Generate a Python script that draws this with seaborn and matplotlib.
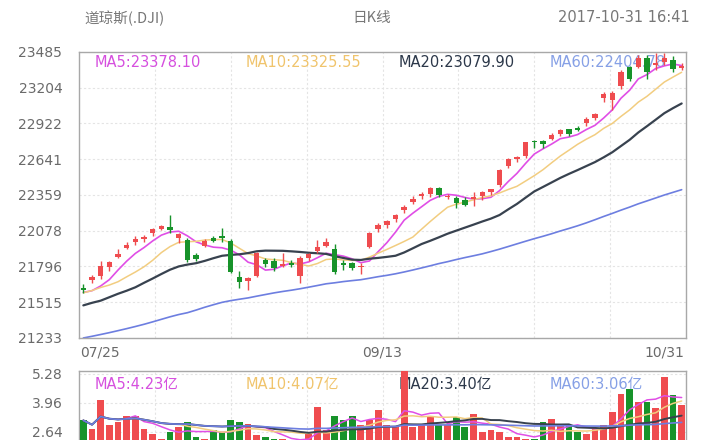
import numpy as np
import pandas as pd
import matplotlib
matplotlib.use("Agg")
import matplotlib.pyplot as plt
import seaborn as sns

# ---------------- data ----------------
dates = ["07/25", "07/26", "07/27", "07/28", "07/31", "08/01", "08/02", "08/03", "08/04", "08/07",
         "08/08", "08/09", "08/10", "08/11", "08/14", "08/15", "08/16", "08/17", "08/18", "08/21",
         "08/22", "08/23", "08/24", "08/25", "08/28", "08/29", "08/30", "08/31", "09/01", "09/05",
         "09/06", "09/07", "09/08", "09/11", "09/12", "09/13", "09/14", "09/15", "09/18", "09/19",
         "09/20", "09/21", "09/22", "09/25", "09/26", "09/27", "09/28", "09/29", "10/02", "10/03",
         "10/04", "10/05", "10/06", "10/09", "10/10", "10/11", "10/12", "10/13", "10/16", "10/17",
         "10/18", "10/19", "10/20", "10/23", "10/24", "10/25", "10/26", "10/27", "10/30", "10/31"]

opens = [21625, 21690, 21725, 21790, 21870, 21940, 21990, 22010, 22060, 22095,
         22110, 22020, 22005, 21885, 21960, 22020, 22040, 21995, 21710, 21680,
         21720, 21850, 21840, 21800, 21825, 21720, 21860, 21920, 21960, 21930,
         21820, 21825, 21790, 21950, 22090, 22120, 22170, 22240, 22300, 22350,
         22370, 22415, 22340, 22335, 22320, 22330, 22350, 22380, 22435, 22590,
         22640, 22665, 22785, 22785, 22800, 22840, 22875, 22885, 22925, 22965,
         23120, 23105, 23220, 23365, 23370, 23440, 23380, 23410, 23420, 23360]
highs = [21655, 21730, 21843, 21840, 21930, 21990, 22036, 22041, 22100, 22124,
         22200, 22060, 22020, 21900, 22010, 22040, 22100, 22010, 21760, 21715,
         21910, 21860, 21860, 21905, 21850, 21880, 21900, 22005, 22020, 21970,
         21850, 21830, 21820, 22070, 22135, 22165, 22210, 22280, 22350, 22380,
         22425, 22425, 22370, 22350, 22340, 22380, 22390, 22410, 22565, 22650,
         22670, 22780, 22790, 22790, 22850, 22880, 22880, 22900, 22975, 23005,
         23170, 23175, 23345, 23375, 23460, 23460, 23480, 23480, 23450, 23395]
lows = [21590, 21670, 21700, 21760, 21860, 21930, 21963, 21990, 22040, 22080,
        22060, 21980, 21835, 21840, 21950, 21990, 21990, 21745, 21630, 21610,
        21710, 21790, 21760, 21790, 21790, 21670, 21840, 21900, 21950, 21740,
        21770, 21765, 21740, 21940, 22070, 22100, 22150, 22220, 22290, 22330,
        22340, 22340, 22330, 22255, 22270, 22270, 22320, 22360, 22420, 22570,
        22620, 22650, 22730, 22730, 22790, 22820, 22820, 22860, 22900, 22950,
        23090, 23030, 23190, 23260, 23360, 23270, 23340, 23380, 23330, 23340]
closes = [21613, 21711, 21796, 21830, 21891, 21963, 22016, 22026, 22092, 22118,
          22085, 22048, 21844, 21858, 21993, 21998, 22024, 21750, 21674, 21703,
          21899, 21812, 21783, 21813, 21808, 21865, 21892, 21948, 21988, 21753,
          21807, 21784, 21797, 22057, 22119, 22158, 22203, 22268, 22331, 22370,
          22412, 22359, 22349, 22296, 22284, 22340, 22381, 22405, 22557, 22641,
          22661, 22775, 22773, 22761, 22830, 22872, 22841, 22871, 22957, 22997,
          23158, 23163, 23329, 23274, 23441, 23329, 23401, 23434, 23349, 23377]
# closes before the visible window (needed by the moving averages)
prior_closes = [20913, 20949, 20957, 20951, 21007, 21013, 20975, 20943, 20919, 20897,
                20982, 20980, 20607, 20663, 20805, 20895, 20937, 21012, 21083, 21080,
                21029, 21009, 21144, 21206, 21184, 21136, 21173, 21182, 21272, 21236,
                21328, 21375, 21360, 21384, 21528, 21467, 21410, 21397, 21395, 21409,
                21310, 21454, 21288, 21350, 21479, 21478, 21320, 21414, 21409, 21409,
                21532, 21554, 21638, 21630, 21575, 21641, 21611, 21580, 21513]

volumes = [3.16, 2.77, 4.07, 2.94, 3.07, 3.37, 3.37, 2.77, 2.55, 2.30,
           2.64, 2.85, 3.07, 2.40, 2.30, 2.70, 2.64, 3.16, 3.07, 3.00,
           2.50, 2.40, 2.30, 2.30, 2.20, 2.20, 2.55, 3.75, 2.70, 3.37,
           3.16, 3.37, 2.94, 3.16, 3.63, 2.94, 2.85, 5.40, 2.85, 2.94,
           3.37, 2.94, 2.94, 3.29, 2.85, 3.45, 2.64, 2.70, 2.64, 2.40,
           2.40, 2.30, 2.30, 3.07, 3.20, 2.94, 2.94, 2.64, 2.55, 2.77,
           2.94, 3.52, 4.37, 4.59, 3.98, 3.98, 3.70, 5.15, 4.30, 3.85]

price_ticks = [21233, 21515, 21796, 22078, 22359, 22641, 22922, 23204, 23485]
vol_ticks = [2.64, 3.96, 5.28]
x_labels = ["07/25", "09/13", "10/31"]
title_left = "道琼斯(.DJI)"
title_mid = "日K线"
title_right = "2017-10-31 16:41"
ma_periods = [5, 10, 20, 60]
price_ma_labels = ["MA5:23378.10", "MA10:23325.55", "MA20:23079.90", "MA60:22404.78"]
vol_ma_labels = ["MA5:4.23亿", "MA10:4.07亿", "MA20:3.40亿", "MA60:3.06亿"]

# ---------------- styling ----------------
sns.set_theme(style="white")
plt.rcParams["font.family"] = ["DejaVu Sans", "Noto Sans CJK SC"]
cjk = ["Noto Sans CJK SC", "DejaVu Sans"]

RED = "#ef4c4f"
GREEN = "#17932a"
ma_line_colors = ["#e04ee6", "#f2cd80", "#38424f", "#6d7ee0"]
ma_text_colors = ["#d650df", "#f0c46c", "#2c384a", "#86a0e6"]
TXT = "#6a6a6a"

n = len(closes)
idx = np.arange(n)
df = pd.DataFrame({"idx": idx, "date": dates, "open": opens, "high": highs,
                   "low": lows, "close": closes, "vol": volumes})
df["dir"] = np.where(df["close"] >= df["open"], "up", "down")
pal = {"up": RED, "down": GREEN}
col = df["dir"].map(pal).tolist()

full = pd.Series(prior_closes + closes, dtype=float)
for p in ma_periods:
    df[f"ma{p}"] = full.rolling(p).mean().iloc[-n:].to_numpy()
    df[f"vma{p}"] = df["vol"].rolling(p, min_periods=1).mean()

W, H = 720, 440
fig = plt.figure(figsize=(7.2, 4.4), dpi=100)
fig.patch.set_facecolor("white")
L, R = 79, 686
ax = fig.add_axes([L / W, 1 - 338 / H, (R - L) / W, (338 - 52) / H])
axv = fig.add_axes([L / W, 1 - 490 / H, (R - L) / W, (490 - 371) / H])

grid_x = [-0.5 + k * n / 8 for k in range(1, 8)]

# ---------------- price panel ----------------
for a in (ax, axv):
    a.set_facecolor("white")
    for s in a.spines.values():
        s.set_color("#a8a8a8")
        s.set_linewidth(1.0)

ax.set_xlim(-0.5, n - 0.5)
ax.set_ylim(price_ticks[0], price_ticks[-1])
ax.set_yticks(price_ticks)
ax.set_yticklabels([str(t) for t in price_ticks])
ax.set_xticks(grid_x)
ax.set_xticklabels([])
ax.tick_params(axis="both", length=0)
ax.tick_params(axis="y", labelsize=10, labelcolor=TXT, pad=12)
ax.grid(True, color="#e4e4e4", linestyle=(0, (2, 2)), linewidth=0.8)
ax.set_axisbelow(True)

for lab, x, c in zip(price_ma_labels, [0.026, 0.274, 0.526, 0.775], ma_text_colors):
    ax.text(x, 0.962, lab, transform=ax.transAxes, color=c, fontsize=10.5,
            va="center", ha="left", zorder=1)

for p, c, lw in zip(ma_periods, ma_line_colors, [1.2, 1.1, 1.6, 1.2]):
    sns.lineplot(data=df, x="idx", y=f"ma{p}", color=c, linewidth=lw, ax=ax,
                 zorder=2)

body_bottom = np.minimum(df["open"], df["close"])
body_h = np.maximum(np.abs(df["close"] - df["open"]), 9)
ax.vlines(df["idx"], df["low"], df["high"], colors=col, linewidth=1.0, zorder=3)
ax.bar(df["idx"], body_h, bottom=body_bottom, width=0.62, color=col,
       linewidth=0, zorder=4)
ax.set_xlabel("")
ax.set_ylabel("")

# ---------------- volume panel ----------------
sns.barplot(data=df, x="idx", y="vol", hue="dir", palette=pal, dodge=False,
            width=0.78, legend=False, ax=axv, linewidth=0, saturation=1, zorder=3)
for p, c, lw in zip(ma_periods, ma_line_colors, [1.1, 1.1, 1.4, 1.2]):
    axv.plot(df["idx"], df[f"vma{p}"], color=c, linewidth=lw, zorder=4)
axv.set_xlim(-0.5, n - 0.5)
axv.set_ylim(0, 5.40)
axv.set_yticks(vol_ticks)
axv.set_yticklabels([f"{t:.2f}" for t in vol_ticks])
axv.set_xticks(grid_x)
axv.set_xticklabels([])
axv.tick_params(axis="both", length=0)
axv.tick_params(axis="y", labelsize=10, labelcolor=TXT, pad=12)
axv.grid(True, color="#e4e4e4", linestyle=(0, (2, 2)), linewidth=0.8)
axv.set_axisbelow(True)
axv.set_xlabel("")
axv.set_ylabel("")
for lab, x, c in zip(vol_ma_labels, [0.026, 0.274, 0.526, 0.775], ma_text_colors):
    axv.text(x, 0.885, lab, transform=axv.transAxes, color=c, fontsize=10.5,
             va="center", ha="left", zorder=2, family=["DejaVu Sans", "Noto Sans CJK SC"])

# ---------------- texts ----------------
fig.text(80 / W, 1 - 352 / H, x_labels[0], color=TXT, fontsize=10, ha="left", va="center")
fig.text((L + R) / 2 / W, 1 - 352 / H, x_labels[1], color=TXT, fontsize=10, ha="center", va="center")
fig.text(684 / W, 1 - 352 / H, x_labels[2], color=TXT, fontsize=10, ha="right", va="center")

fig.text(84 / W, 1 - 18 / H, title_left, color="#777777", fontsize=10.5, ha="left",
         va="center", family=cjk)
fig.text(372 / W, 1 - 18 / H, title_mid, color="#777777", fontsize=10.5, ha="center",
         va="center", family=cjk)
fig.text(690 / W, 1 - 18 / H, title_right, color="#777777", fontsize=10.5, ha="right",
         va="center")

fig.savefig("out.png", dpi=100, facecolor="white")
